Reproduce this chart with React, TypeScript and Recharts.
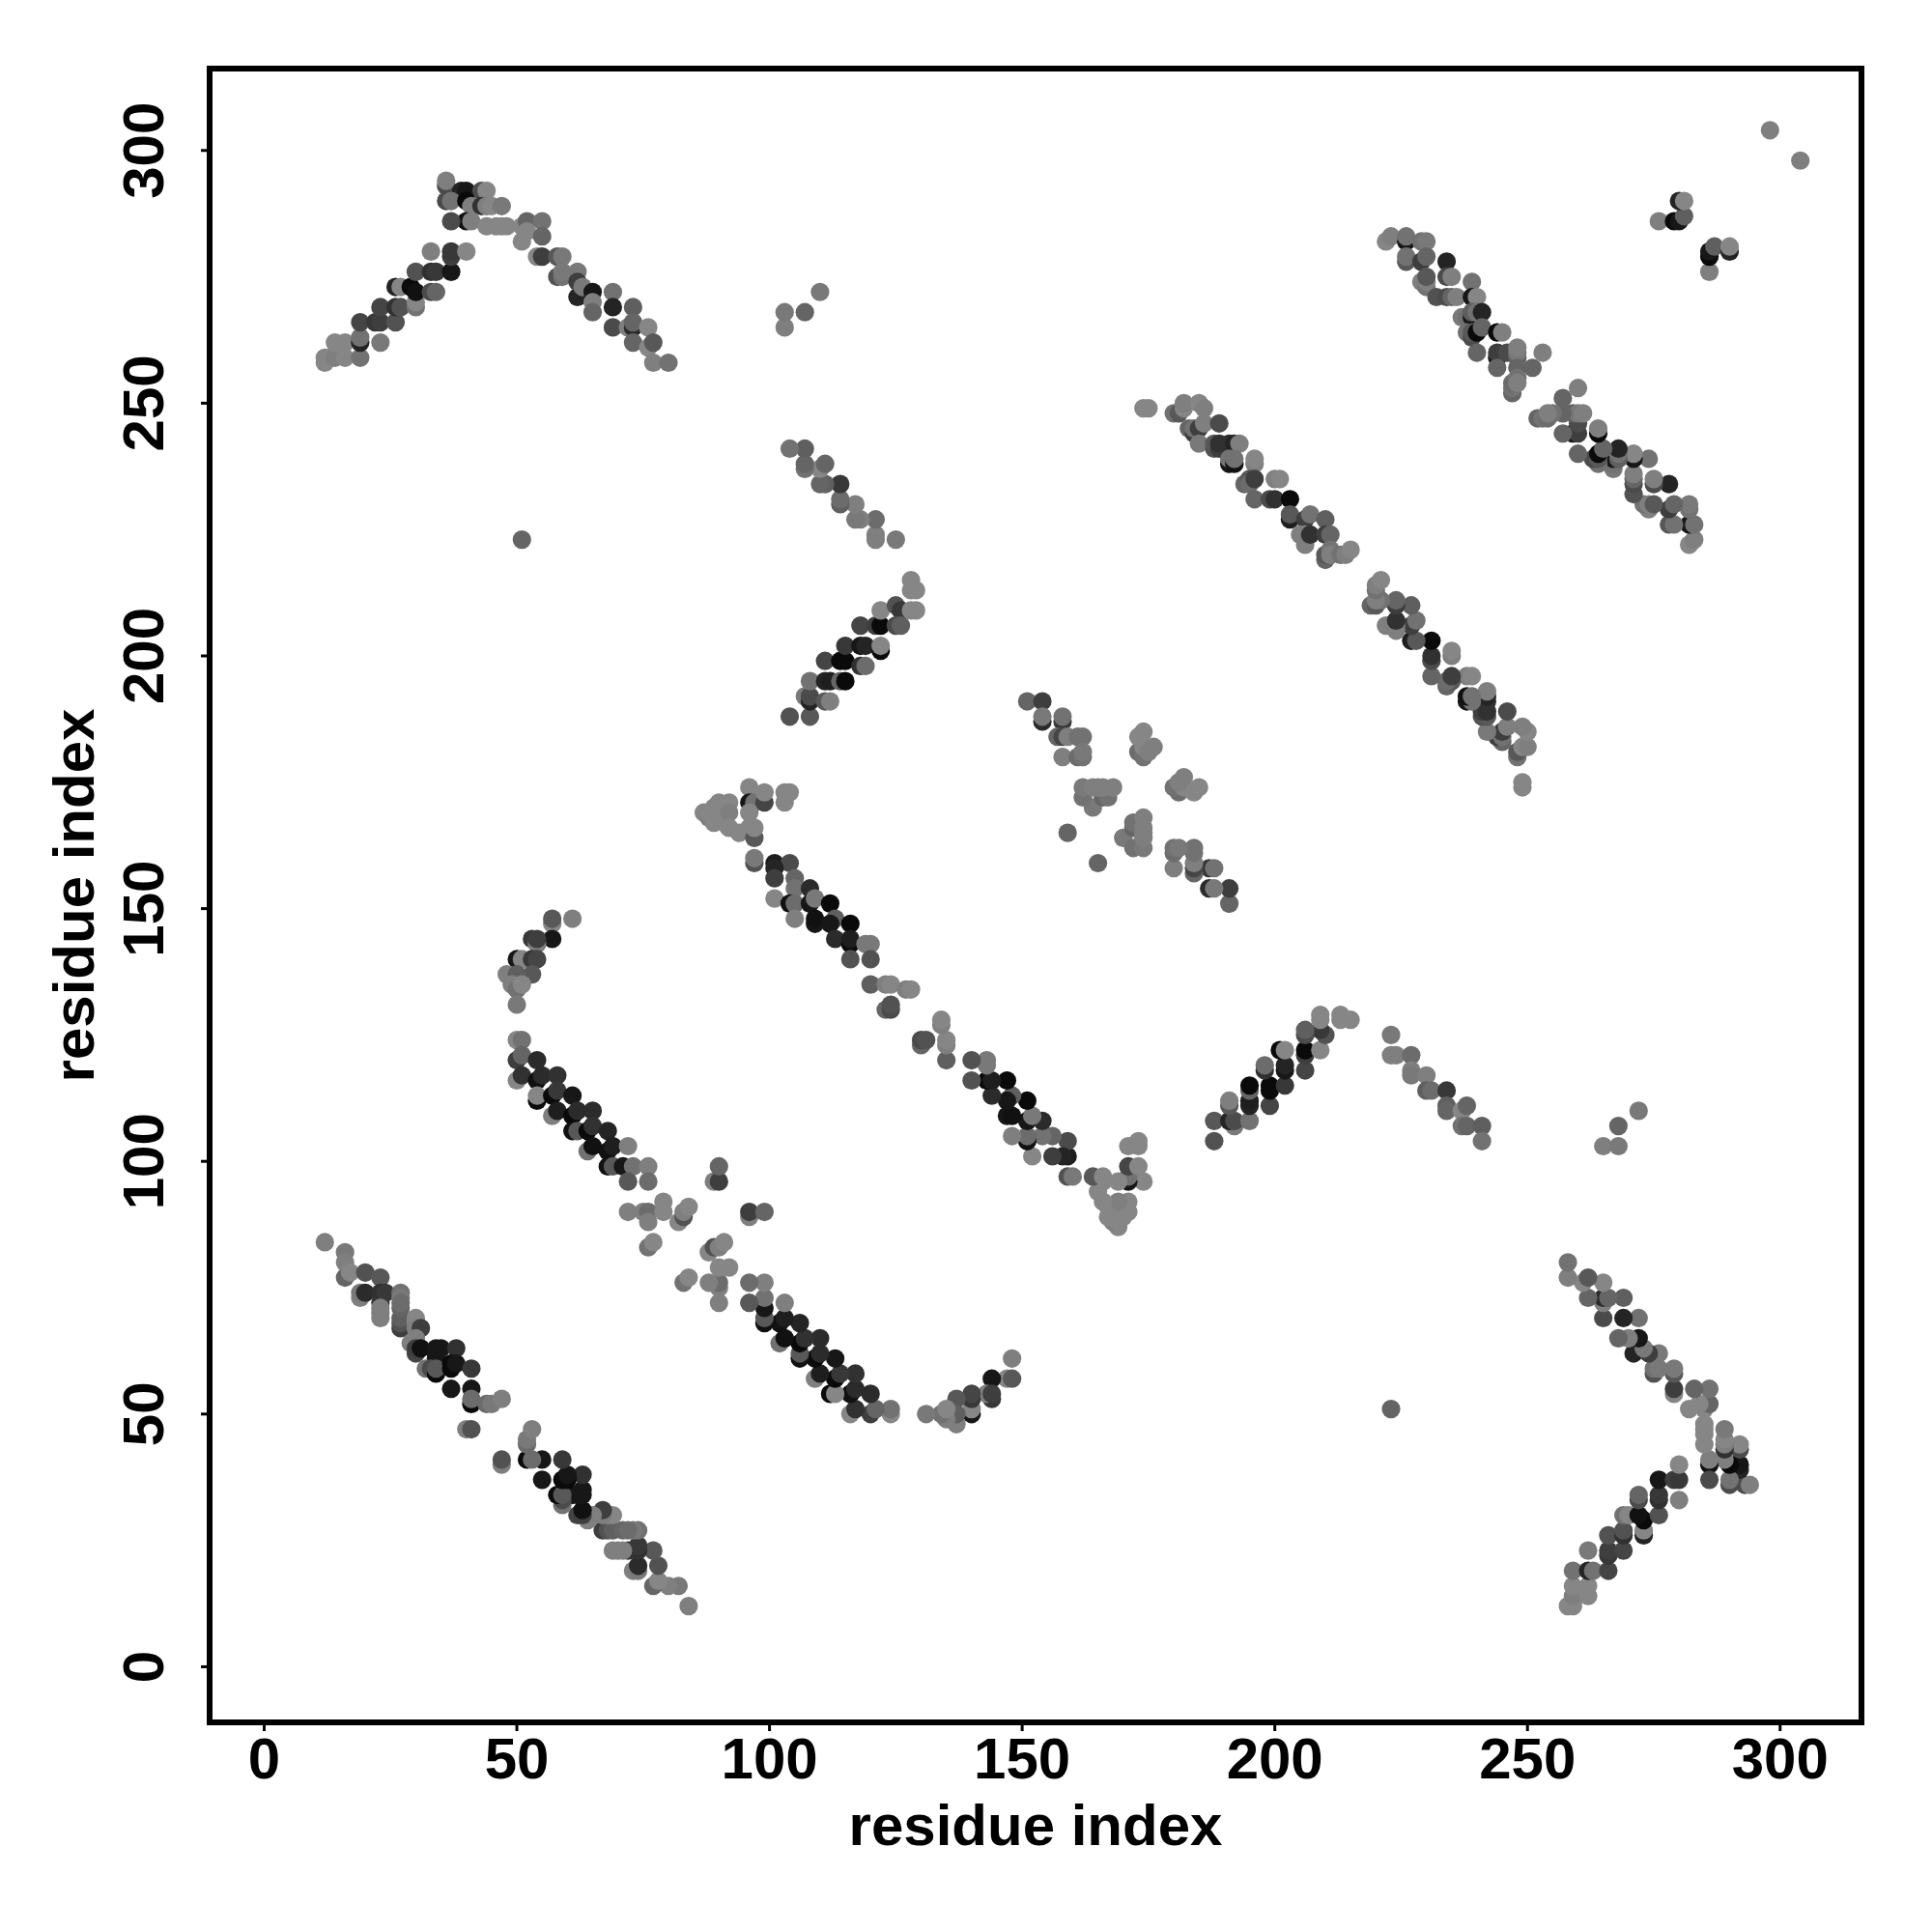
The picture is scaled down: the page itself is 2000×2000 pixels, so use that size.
import { ScatterChart, Scatter, XAxis, YAxis, ReferenceArea, Label } from 'recharts';

type Contact = [number, number, number];

const armA: Contact[] = [
  [12,259,.05],[12,258,.05],[13,259,.05],[14,259,.1],[16,259,.05],[19,259,.2],[14,262,.05],[16,262,.05],
  [19,262,.8],[19,263,.2],[19,266,.55],[23,262,.15],[22,266,.65],[23,266,.6],[26,266,.45],[23,269,.55],
  [26,269,.7],[27,269,.45],[30,269,.2],[30,270,.05],[26,273,.8],[27,273,.05],[29,273,1],[30,272,.95],
  [33,272,.5],[34,272,.3],[30,276,.45],[33,276,.7],[34,276,.65],[37,276,.9],[33,280,.1],[37,279,.6],
  [37,280,.65],[40,280,.05],[36,293,.5],[36,294,.1],[39,292,.8],[40,292,.9],[43,292,.5],[44,292,.05],
  [36,290,.5],[37,290,.2],[40,290,1],[41,289,.1],[43,289,.7],[44,289,.1],[45,289,.05],[47,289,.15],
  [40,286,.95],[41,286,.1],[37,286,.5],[44,285,.05],[46,285,.05],[47,285,.05],[48,285,.05],[51,285,.05],
  [52,286,.3],[55,286,.2],[51,282,.05],[52,284,.05],[55,283,.3],[54,279,.05],[55,279,.6],[58,279,.4],
  [59,279,.15],[58,275,.45],[59,275,.2],[59,276,.15],[62,276,.15],[62,271,.8],[62,274,.6],[63,273,.15],
  [65,272,.9],[65,270,.1],[65,268,.3],[69,272,.2],[69,269,.8],[69,265,.5],[73,269,.35],[72,265,.1],
  [73,265,.75],[73,266,.3],[73,262,.3],[76,265,.05],[76,261,.05],[77,262,.4],[77,258,.1],[80,258,.2],
];

const pairB: Contact[] = [
  [51,223,.3],[103,265,.1],[103,268,.15],[107,268,.3],[110,272,.15],
];

const strandC: Contact[] = [
  [125,223,.15],[121,223,.1],[121,224,.1],[121,227,.25],[118,227,.1],[117,227,.15],[117,230,.1],[114,230,.35],
  [114,231,.25],[114,234,.65],[111,234,.35],[110,234,.3],[110,237,.05],[111,238,.3],[107,237,.2],[107,238,.3],
  [107,241,.35],[104,241,.2],
];

const strandD: Contact[] = [
  [104,188,.45],[108,188,.4],[107,192,.15],[108,191,.8],[108,192,.5],[111,191,.4],[112,191,.1],[108,195,.2],
  [111,195,.8],[112,195,.85],[111,199,.55],[114,195,.3],[115,195,1],[114,199,1],[115,199,1],[115,202,.65],
  [118,198,.7],[119,198,.25],[118,202,.9],[119,202,.8],[118,206,.55],[122,201,1],[122,202,.05],[121,206,.6],
  [122,206,1],[122,209,.05],[125,210,.45],[126,209,.65],[125,206,.5],[126,206,.35],[128,209,.05],[129,209,.05],
  [128,215,.05],[128,213,.05],[129,213,.05],
];

const turnI: Contact[] = [
  [87,169,.05],[88,168,.1],[88,169,.05],[89,167,.05],[89,170,.05],[90,168,.05],[90,171,.05],[91,167,.05],[92,171,.05],[92,169,.1],[92,166,.05],[94,165,.05],[96,174,.05],
  [96,171,.9],[97,171,.2],[96,169,.05],[96,166,.05],[97,164,.4],[97,166,.05],[99,171,.55],[99,173,.05],
  [103,171,.05],[103,173,.05],[104,173,.05],[97,159,.45],[97,160,.15],[101,159,.85],[104,159,.5],
];

const strandI: Contact[] = [
  [101,158,.8],[101,156,.6],[105,156,.3],[105,154,.2],[108,154,.75],[101,152,.05],[104,151,.95],[105,151,.25],
  [105,148,.1],[108,151,.9],[109,152,.15],[112,151,1],[109,147,.9],[109,148,.95],[113,148,.35],[112,147,.9],
  [116,147,1],[113,144,.75],[116,143,1],[116,144,.85],[116,140,.45],[119,143,.15],[120,143,.15],[120,140,.45],
  [120,135,.35],[123,135,.1],[124,135,.05],[123,130,.3],[124,130,.5],[124,131,.45],[127,134,.1],[128,134,.05],
];

const strandE: Contact[] = [
  [151,191,.3],[154,191,.6],[154,187,.75],[154,188,.15],[158,187,.65],[158,188,.2],[157,184,.3],[158,184,.55],
  [159,184,.1],[161,184,.2],[162,184,.2],[158,180,.1],[161,180,.25],[162,180,.2],[162,181,.15],[159,165,.3],
  [173,181,.25],[174,180,.2],[174,182,.05],[175,181,.1],[176,182,.1],[173,184,.05],[174,185,.05],
  [164,170,.15],[166,172,.3],[167,172,.2],[162,172,.2],[162,174,.15],[164,174,.1],[165,174,.1],[166,174,.1],[168,174,.1],
];

const strandF: Contact[] = [
  [174,249,.05],[175,249,.05],[180,248,.2],[181,248,.4],[182,249,.05],[182,250,.1],[185,250,.05],[186,249,.1],[183,245,.3],[184,244,.6],[184,245,.2],[185,245,.6],
  [186,246,.1],[189,246,.5],[185,242,.15],[188,241,.45],[188,242,.4],[189,241,.6],[189,242,.7],[191,242,.7],[192,242,.8],[193,242,.1],[191,238,.9],[191,239,.2],[192,238,.95],
  [192,239,.2],[196,238,.1],[196,239,.05],[194,234,.3],[195,235,.4],[195,234,.25],[196,235,.6],[200,235,.1],[201,235,.05],[196,231,.3],
  [199,231,.5],[200,231,.7],[203,231,1],[203,227,.85],[203,228,.4],[206,227,.6],[207,228,.2],[210,227,.35],
  [205,224,.1],[206,222,.1],[206,224,.1],[207,224,.7],[210,224,.6],[211,224,.3],[210,219,.3],[210,220,.4],[211,221,.2],[211,220,.1],[213,220,.2],[214,220,.1],[215,221,.05],
];

const strandG: Contact[] = [
  [222,282,.05],[223,283,.1],[226,282,.9],[226,283,.2],[226,278,.4],[226,279,.2],[229,282,.2],[230,282,.15],
  [229,278,.6],[230,279,.3],[234,278,.8],[229,274,.1],[230,273,.2],[230,274,.1],[230,275,.4],[234,275,.5],[235,275,.1],[239,274,.2],
  [232,271,.45],[234,271,.5],[235,271,.3],[236,271,.1],[239,271,.9],[240,271,.05],[237,267,.15],[238,267,.2],[239,267,.9],[239,268,.35],[240,268,.2],
  [241,268,.8],[238,264,.2],[239,263,.5],[239,264,.4],[240,264,1],[241,265,.3],[244,264,1],[245,264,.1],[240,260,.3],[244,259,.9],
  [244,260,.6],[246,260,.5],[248,259,.35],[248,260,.15],[248,261,.1],[244,257,.3],[248,257,.3],[251,257,.3],[253,260,.1],[247,252,.3],[247,253,.2],
  [247,254,.25],[248,255,.2],[248,254,.1],
];

const clusterH: Contact[] = [
  [276,286,.1],[279,286,1],[280,286,.9],[281,287,.35],[280,290,.8],[281,290,.05],[298,304,.1],
];

const strandK: Contact[] = [
  [50,124,.05],[51,124,.2],[50,120,.6],[51,121,.3],[54,120,.75],[50,116,.05],[51,117,.7],[54,116,.95],
  [55,117,.75],[58,117,.7],[54,112,1],[54,113,.05],[57,113,1],[58,114,.65],[61,113,.9],[57,109,.1],
  [58,110,.85],[61,109,1],[62,110,.75],[65,110,.75],[61,106,.95],[62,106,.4],[64,106,1],[65,107,.7],
  [68,106,.8],[64,102,.2],[65,103,.95],[68,102,.95],[69,103,.85],[72,103,.1],[68,99,.95],[69,99,.4],
  [71,99,.9],[73,99,.2],[76,99,.1],[72,96,.4],[76,96,.25],
];

const curveJ: Contact[] = [
  [57,147,.05],[57,148,.4],[61,148,.1],[57,144,.9],[53,144,.65],[54,143,.1],[54,144,.6],[50,140,.9],
  [51,140,.05],[53,140,.65],[54,140,.55],[53,137,.4],[48,137,.1],[50,137,.35],[49,135,.1],[50,134,.2],
  [51,135,.05],[50,131,.15],
];

const clusterL: Contact[] = [
  [72,90,.1],[75,90,.1],[76,90,.25],[76,88,.1],[79,92,.05],[79,90,.05],[82,88,.05],[83,89,.45],
  [83,90,.1],[84,91,.05],[76,83,.2],[77,84,.05],[89,96,.1],[90,96,.6],[90,99,.3],
];

const strandM: Contact[] = [
  [12,84,.1],[16,82,.15],[16,80,.1],[16,77,.3],[17,78,.05],[20,78,.45],[23,77,.4],[19,73,.1],[19,74,.15],
  [20,74,.75],[23,72,.7],[23,74,.7],[24,74,.65],[27,74,.2],[27,73,.15],[23,71,.1],[23,70,.1],[23,69,.1],[27,67,.6],[27,68,.45],[27,69,.35],
  [27,71,.3],[27,72,.25],[30,69,.05],[30,68,.05],[30,67,.1],[31,67,.6],[30,65,.1],[29,64,.1],[30,62,.55],[30,63,.6],[31,63,.95],[34,61,.9],[34,62,.9],[34,63,.9],
  [35,63,.9],[38,63,.7],[32,59,.2],[33,59,.5],[34,58,1],[34,59,.4],[37,59,1],[37,60,1],[38,60,.9],[41,59,.65],[37,55,.9],
  [41,55,.9],[41,52,1],[41,53,.25],[44,52,.25],[45,52,.15],[47,53,.1],[40,47,.1],[41,47,.45],
];

const TICKS = [0, 50, 100, 150, 200, 250, 300];
const X_DOMAIN: [number, number] = [-10.8, 316.1];
const Y_DOMAIN: [number, number] = [-11, 316.2];
const FONT = '"Liberation Sans", Arial, sans-serif';

const upper = [armA, pairB, strandC, strandD, turnI, strandI, strandE, strandF, strandG, clusterH, strandK, curveJ, clusterL, strandM].flat();

// contact maps are symmetric, so the lower triangle is the same list swapped
const contacts = [
  ...upper.map(([i, j, conf]) => ({ i, j, conf })),
  ...upper.map(([i, j, conf]) => ({ i: j, j: i, conf })),
];

const grey = (conf: number) => {
  const v = Math.round(140 - 130 * conf);
  return `rgb(${v},${v},${v})`;
};

const Dot = (props: any) => (
  <circle cx={props.cx} cy={props.cy} r={9.6} fill={grey(props.payload.conf)} />
);

const RotatedTick = ({ x, y, payload }: any) => (
  <text
    x={x - 37}
    y={y}
    transform={`rotate(-90 ${x - 37} ${y})`}
    textAnchor="middle"
    fontFamily={FONT}
    fontWeight="bold"
    fontSize={60}
    fill="#000"
  >
    {payload.value}
  </text>
);

const BottomTick = ({ x, y, payload }: any) => (
  <text x={x} y={y + 47} textAnchor="middle" fontFamily={FONT} fontWeight="bold" fontSize={60} fill="#000">
    {payload.value}
  </text>
);

const XTitle = ({ viewBox }: any) => (
  <text
    x={viewBox.x + viewBox.width / 2}
    y={1910}
    textAnchor="middle"
    fontFamily={FONT}
    fontWeight="bold"
    fontSize={60}
    fill="#000"
  >
    residue index
  </text>
);

const YTitle = ({ viewBox }: any) => {
  const cy = viewBox.y + viewBox.height / 2;
  return (
    <text
      x={97}
      y={cy}
      transform={`rotate(-90 97 ${cy})`}
      textAnchor="middle"
      fontFamily={FONT}
      fontWeight="bold"
      fontSize={60}
      fill="#000"
    >
      residue index
    </text>
  );
};

export default function App() {
  return (
    <div style={{ position: 'absolute', left: 0, top: 0, background: '#fff' }}>
      <ScatterChart width={2000} height={2000} margin={{ top: 71, right: 73, left: 0, bottom: 0 }}>
        <XAxis
          type="number"
          dataKey="i"
          domain={X_DOMAIN}
          ticks={TICKS}
          allowDataOverflow
          height={217}
          axisLine={false}
          tickLine={{ stroke: '#000', strokeWidth: 3 }}
          tickSize={9}
          tick={BottomTick}
        >
          <Label content={XTitle} />
        </XAxis>
        <YAxis
          type="number"
          dataKey="j"
          domain={Y_DOMAIN}
          ticks={TICKS}
          allowDataOverflow
          width={217}
          axisLine={false}
          tickLine={{ stroke: '#000', strokeWidth: 3 }}
          tickSize={9}
          tick={RotatedTick}
        >
          <Label content={YTitle} />
        </YAxis>
        <Scatter data={contacts} shape={Dot} isAnimationActive={false} />
        <ReferenceArea
          x1={X_DOMAIN[0]}
          x2={X_DOMAIN[1]}
          y1={Y_DOMAIN[0]}
          y2={Y_DOMAIN[1]}
          fill="none"
          stroke="#000"
          strokeWidth={6}
          ifOverflow="visible"
        />
      </ScatterChart>
    </div>
  );
}
